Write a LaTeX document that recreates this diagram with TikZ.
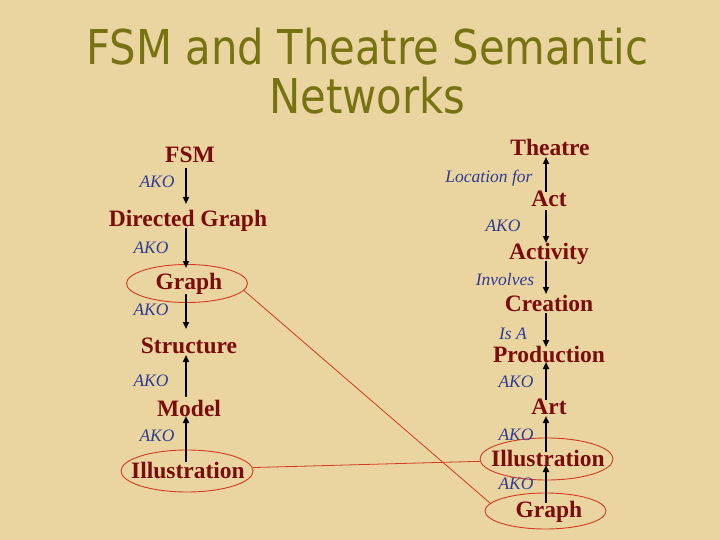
\documentclass[tikz,border=0pt]{standalone}
\usepackage{fontspec}
\setmainfont{Liberation Serif}
\newfontfamily\titlefont{DejaVu Sans}
\usetikzlibrary{shapes.geometric,arrows.meta,calc}
\definecolor{bg}{HTML}{EAD5A0}
\definecolor{titleolive}{HTML}{777212}
\definecolor{nodered}{HTML}{7B0C0C}
\definecolor{relblue}{HTML}{2E3C96}
\definecolor{ringred}{HTML}{D23A22}
\begin{document}
\begin{tikzpicture}[x=1pt,y=-1pt,
  concept/.style={font=\fontsize{23.5}{23.5}\selectfont\bfseries, text=nodered, inner sep=0pt, anchor=base},
  rel/.style={font=\fontsize{17.5}{17.5}\selectfont\itshape, text=relblue, inner sep=0pt, anchor=base},
  ring/.style={ellipse, draw=ringred, line width=0.9pt, inner sep=0pt},
  link/.style={draw=ringred, line width=0.8pt},
  arr/.style={draw=black, line width=1.8pt, -{Triangle[length=7pt,width=6pt]}},
  ttl/.style={font=\titlefont\fontsize{48}{48}\selectfont, text=titleolive, inner sep=0pt, anchor=base}]
\fill[bg] (0,0) rectangle (720,540);
\useasboundingbox (0,0) rectangle (720,540);

% title
\node[ttl] (t1) at (367.5,65) {\scalebox{0.87}[1]{FSM and Theatre Semantic}};
\node[ttl] (t2) at (367.5,114) {\scalebox{0.87}[1]{Networks}};

% ellipses
\node[ring, minimum width=121pt, minimum height=38pt] (lgraphE) at (187,283.5) {};
\node[ring, minimum width=132pt, minimum height=42pt] (lilluE) at (187,471) {};
\node[ring, minimum width=133pt, minimum height=42pt] (rilluE) at (546.5,459) {};
\node[ring, minimum width=121pt, minimum height=36pt] (rgraphE) at (545.5,511) {};

% red links
\draw[link] (lgraphE.-7) -- (rgraphE.172);
\draw[link] (lilluE.3.5) -- (rilluE.182.6);

% left concepts
\node[concept] (fsm) at (190,163) {FSM};
\node[concept] (dg) at (188,226) {Directed Graph};
\node[concept] (lgraph) at (189,289) {Graph};
\node[concept] (struct) at (189,353) {Structure};
\node[concept] (model) at (189,416) {Model};
\node[concept] (lillu) at (188,478) {Illustration};

% right concepts
\node[concept] (theatre) at (550,156) {Theatre};
\node[concept] (act) at (549,207) {Act};
\node[concept] (activity) at (549,259) {Activity};
\node[concept] (creation) at (549,311) {Creation};
\node[concept] (prod) at (549,362) {Production};
\node[concept] (art) at (549,414) {Art};
\node[concept] (rillu) at (548,466) {Illustration};
\node[concept] (rgraph) at (549,517) {Graph};

% left relation labels
\node[rel] (l1) at (157,188) {AKO};
\node[rel] (l2) at (151,253) {AKO};
\node[rel] (l3) at (151,315) {AKO};
\node[rel] (l4) at (151,386) {AKO};
\node[rel] (l5) at (157,441) {AKO};

% right relation labels
\node[rel] (r1) at (489,183) {Location for};
\node[rel] (r2) at (503,231) {AKO};
\node[rel] (r3) at (505,285) {Involves};
\node[rel] (r4) at (513,339) {Is A};
\node[rel] (r5) at (516,387) {AKO};
\node[rel] (r6) at (516,440) {AKO};
\node[rel] (r7) at (516,489) {AKO};

% left arrows (x = 186)
\draw[arr] ($(fsm.base)+(-4,5)$) -- ($(dg.base)+(-2,-22)$);
\draw[arr] ($(dg.base)+(-2,2)$) -- ($(lgraph.base)+(-3,-21)$);
\draw[arr] ($(lgraph.base)+(-3,5)$) -- ($(struct.base)+(-3,-24)$);
\draw[arr] ($(model.base)+(-3,-19)$) -- ($(struct.base)+(-3,2)$);
\draw[arr] ($(lillu.base)+(-2,-16)$) -- ($(model.base)+(-3,0)$);

% right arrows (x = 546)
\draw[arr] ($(act.base)+(-3,-15)$) -- ($(theatre.base)+(-4,1)$);
\draw[arr] ($(act.base)+(-3,3)$) -- ($(activity.base)+(-3,-16)$);
\draw[arr] ($(activity.base)+(-3,2)$) -- ($(creation.base)+(-3,-17)$);
\draw[arr] ($(creation.base)+(-3,2)$) -- ($(prod.base)+(-3,-15)$);
\draw[arr] ($(art.base)+(-3,-14)$) -- ($(prod.base)+(-3,0)$);
\draw[arr] ($(rillu.base)+(-2,-14)$) -- ($(art.base)+(-3,2)$);
\draw[arr] ($(rgraph.base)+(-3,-14)$) -- ($(rillu.base)+(-2,-1)$);
\end{tikzpicture}
\end{document}
